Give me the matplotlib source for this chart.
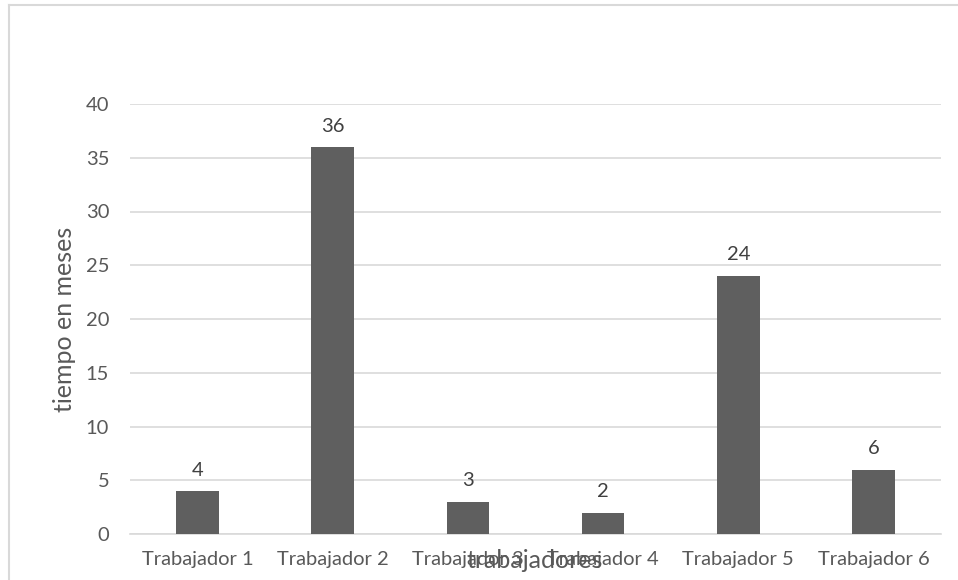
import matplotlib
matplotlib.use("Agg")
import matplotlib.pyplot as plt
from matplotlib.lines import Line2D

plt.rcParams['font.family'] = ['Lato', 'DejaVu Sans']

trabajadores = ["Trabajador 1", "Trabajador 2", "Trabajador 3",
                "Trabajador 4", "Trabajador 5", "Trabajador 6"]
meses = [4, 36, 3, 2, 24, 6]
yticks = [0, 5, 10, 15, 20, 25, 30, 35, 40]

txt = "#595959"
W, H = 958, 580

fig = plt.figure(figsize=(W / 100, H / 100), dpi=100)
# axes placed in pixel units: left 130, right 941, top 104, bottom 534
ax = fig.add_axes([130 / W, 1 - 534 / H, (941 - 130) / W, (534 - 104) / H])

x = range(len(trabajadores))
bars = ax.bar(x, meses, width=0.316, color="#5f5f5f", zorder=3)
for b, v in zip(bars, meses):
    ax.annotate(str(v), (b.get_x() + b.get_width() / 2, v),
                xytext=(0, 9), textcoords="offset points",
                ha="center", va="bottom", fontsize=14.5, color="#404040")

ax.set_xlim(-0.5, len(trabajadores) - 0.5)
ax.set_ylim(0, 40)
ax.set_yticks(yticks)
ax.set_xticks(list(x))
ax.set_xticklabels(trabajadores)
ax.tick_params(axis="both", length=0, colors=txt, labelsize=14.5)
ax.tick_params(axis="x", pad=12)
ax.tick_params(axis="y", pad=15)
ax.grid(axis="y", color="#d9d9d9", linewidth=1.2, zorder=0)
for s in ["top", "right", "left"]:
    ax.spines[s].set_visible(False)
ax.spines["bottom"].set_color("#d9d9d9")
ax.spines["bottom"].set_linewidth(1.2)

ax.set_ylabel("tiempo en meses", fontsize=18, color=txt, labelpad=7)
# x label sits on top of the tick labels, as in the original
fig.text(535 / W, 1 - 561 / H, "trabajadores", fontsize=18, color=txt,
         ha="center", va="center")

# chart area border (left and top visible only)
fig.add_artist(Line2D([9 / W, 9 / W], [0, 1 - 5 / H], color="#d9d9d9", lw=1.5))
fig.add_artist(Line2D([9 / W, 1], [1 - 5 / H, 1 - 5 / H], color="#d9d9d9", lw=1.5))

fig.savefig("out.png", dpi=100)
